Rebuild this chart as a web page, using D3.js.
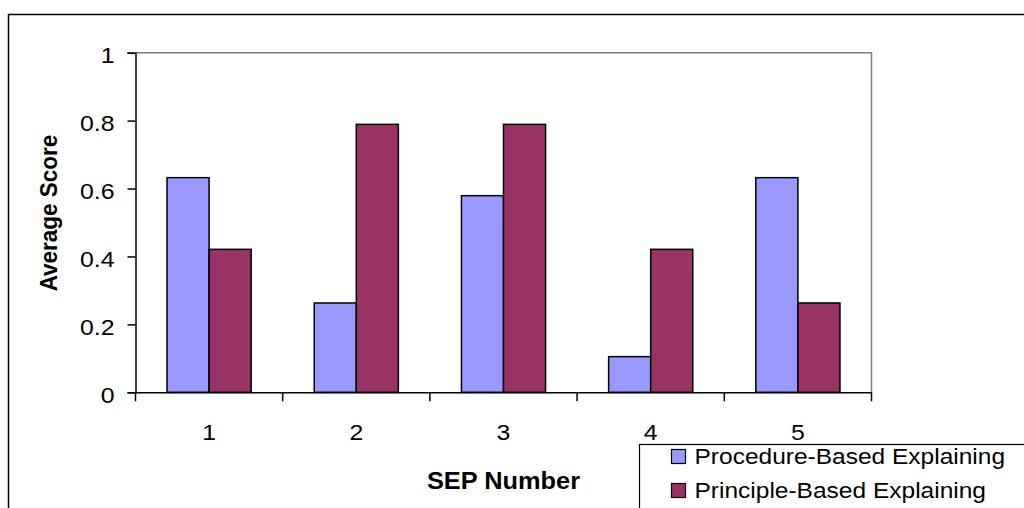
<!DOCTYPE html>
<html>
<head>
<meta charset="utf-8">
<script src="https://cdn.jsdelivr.net/npm/d3@7"></script>
<style>
  html, body { margin: 0; padding: 0; background: #fff; }
  svg { display: block; font-family: "Liberation Sans", Arial, sans-serif; }
</style>
</head>
<body>
<svg id="chart" width="1024" height="508"></svg>
<script>
// ---- data ----
const categories = ["1", "2", "3", "4", "5"];
const seriesNames = ["Procedure-Based Explaining", "Principle-Based Explaining"];
const procedureValues = [0.632, 0.263, 0.579, 0.105, 0.632];
const principleValues = [0.421, 0.789, 0.789, 0.421, 0.263];
const yTickValues = [0, 0.2, 0.4, 0.6, 0.8, 1];
const yTickLabels = ["0", "0.2", "0.4", "0.6", "0.8", "1"];
const seriesColors = ["#9999FF", "#993366"];
const xTitle = "SEP Number";
const yTitle = "Average Score";

const svg = d3.select("#chart");

// outer chart border
svg.append("rect")
  .attr("x", 8.5).attr("y", 14.5)
  .attr("width", 1030).attr("height", 510)
  .attr("fill", "#fff").attr("stroke", "#000").attr("stroke-width", 1.5);

const plot = { left: 135.5, right: 871.5, top: 52.7, bottom: 392.3 };

const x0 = d3.scaleBand().domain(categories).range([plot.left, plot.right]).paddingInner(0).paddingOuter(0);
const x1 = d3.scaleBand().domain(seriesNames).range([0, x0.bandwidth()]).paddingInner(0).paddingOuter(0.75);
const y = d3.scaleLinear().domain([0, 1]).range([plot.bottom, plot.top]);

// plot area frame (top & right gray)
svg.append("path")
  .attr("d", `M${plot.left},${plot.top}H${plot.right}V${plot.bottom}`)
  .attr("fill", "none").attr("stroke", "#808080").attr("stroke-width", 1.5);

// bars
const rows = categories.map((c, i) => ({ cat: c, vals: [procedureValues[i], principleValues[i]] }));
const groups = svg.append("g").selectAll("g").data(rows).join("g")
  .attr("transform", d => `translate(${x0(d.cat)},0)`);
groups.selectAll("rect").data(d => d.vals.map((v, k) => ({ v, k })))
  .join("rect")
  .attr("x", d => x1(seriesNames[d.k]))
  .attr("y", d => y(d.v))
  .attr("width", x1.bandwidth())
  .attr("height", d => y(0) - y(d.v))
  .attr("fill", d => seriesColors[d.k])
  .attr("stroke", "#000").attr("stroke-width", 1.5);

// y axis
const yAxis = d3.axisLeft(y).tickValues(yTickValues).tickSize(8).tickFormat((d, i) => yTickLabels[i]);
const gy = svg.append("g").attr("transform", `translate(${plot.left},0)`).call(yAxis);
gy.select(".domain").attr("stroke", "#000").attr("stroke-width", 1.5);
gy.selectAll(".tick line").attr("stroke", "#000").attr("stroke-width", 1.5);
gy.selectAll(".tick text").remove();
gy.selectAll(".tick").append("g")
  .attr("transform", "translate(-21,10) scale(1.13,1)")
  .append("text")
  .attr("text-anchor", "end")
  .attr("font-size", 22).attr("fill", "#000")
  .text((d, i) => yTickLabels[i]);

// x axis
const xAxis = d3.axisBottom(x0).tickSize(0).tickSizeOuter(0);
const gx = svg.append("g").attr("transform", `translate(0,${plot.bottom})`).call(xAxis);
gx.select(".domain").attr("stroke", "#000").attr("stroke-width", 1.5);
gx.selectAll(".tick text").remove();
gx.selectAll(".tick").append("g")
  .attr("transform", "translate(0,47.5) scale(1.13,1)")
  .append("text")
  .attr("text-anchor", "middle")
  .attr("font-size", 22).attr("fill", "#000")
  .text(d => d);
// category separator ticks
const sepPositions = categories.map(c => x0(c)).concat([x0(categories[categories.length - 1]) + x0.bandwidth()]);
svg.append("g").selectAll("line").data(sepPositions).join("line")
  .attr("x1", d => d).attr("x2", d => d)
  .attr("y1", plot.bottom).attr("y2", plot.bottom + 9)
  .attr("stroke", "#000").attr("stroke-width", 1.5);

// axis titles
svg.append("g")
  .attr("transform", `translate(${(plot.left + plot.right) / 2},488.5) scale(1.08,1)`)
  .append("text")
  .attr("text-anchor", "middle").attr("font-weight", "bold")
  .attr("font-size", 23.5).attr("fill", "#000")
  .text(xTitle);
svg.append("g")
  .attr("transform", `translate(57,213) scale(1.07,1) rotate(-90)`)
  .append("text")
  .attr("text-anchor", "middle").attr("font-weight", "bold")
  .attr("font-size", 22.5).attr("fill", "#000")
  .text(yTitle);

// legend
const legend = svg.append("g").attr("transform", "translate(639.5,444.5)");
legend.append("rect")
  .attr("x", 0).attr("y", 0).attr("width", 400).attr("height", 80)
  .attr("fill", "#fff").attr("stroke", "#000").attr("stroke-width", 1.2);
const items = legend.selectAll("g.item").data(seriesNames).join("g")
  .attr("class", "item")
  .attr("transform", (d, i) => `translate(0,${i * 34})`);
items.append("rect")
  .attr("x", 32).attr("y", 5).attr("width", 14).attr("height", 14)
  .attr("fill", (d, i) => seriesColors[i]).attr("stroke", "#000").attr("stroke-width", 1.2);
items.append("g")
  .attr("transform", "translate(55,19.5) scale(1.14,1)")
  .append("text")
  .attr("font-size", 21.5).attr("fill", "#000")
  .text(d => d);
</script>
</body>
</html>
